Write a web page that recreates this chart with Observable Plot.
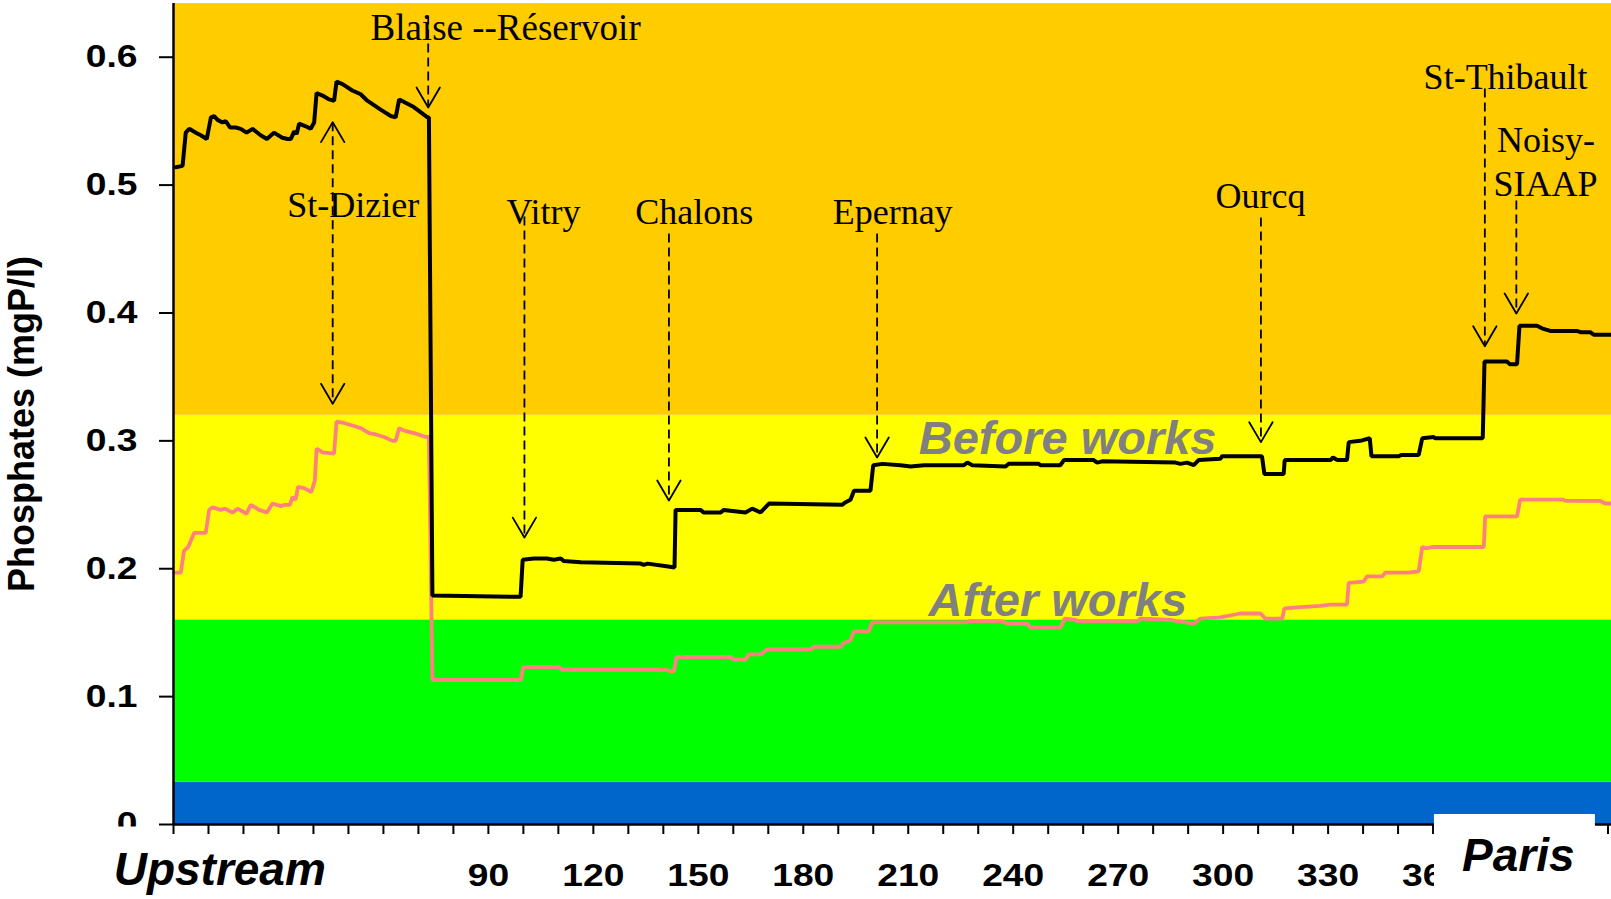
<!DOCTYPE html>
<html><head><meta charset="utf-8">
<script src="https://cdn.jsdelivr.net/npm/d3@7"></script>
<script src="https://cdn.jsdelivr.net/npm/@observablehq/plot@0.6"></script>
<style>html,body{margin:0;padding:0;background:#fff;overflow:hidden}</style>
</head><body><div id="chart"></div>
<script>
// ---- Data (km along the river, phosphates mgP/l) ----
const beforeWorks = [[0.7,0.514],[2.6,0.515],[3.5,0.541],[4.5,0.544],[6.4,0.541],[7.8,0.539],[9.5,0.536],[10.7,0.553],[11.6,0.554],[12.6,0.551],[14.0,0.549],[14.9,0.550],[16.2,0.545],[17.8,0.545],[19.2,0.544],[20.9,0.541],[22.6,0.544],[24.9,0.539],[26.7,0.536],[28.7,0.541],[31.1,0.537],[32.6,0.536],[33.5,0.536],[34.5,0.542],[35.2,0.540],[35.9,0.548],[37.8,0.546],[39.2,0.544],[40.2,0.549],[40.9,0.572],[42.6,0.570],[44.5,0.567],[45.9,0.566],[46.6,0.581],[48.3,0.579],[51.1,0.574],[53.5,0.571],[55.4,0.566],[59.2,0.559],[62.1,0.554],[63.5,0.553],[64.5,0.567],[65.9,0.565],[68.7,0.561],[72.6,0.553],[73.0,0.553],[74.0,0.179],[99.2,0.178],[99.8,0.207],[103.0,0.208],[106.7,0.208],[108.7,0.207],[110.7,0.208],[111.5,0.206],[116.4,0.205],[133.5,0.204],[134.4,0.203],[135.5,0.204],[140.9,0.202],[143.2,0.201],[143.5,0.246],[150.7,0.246],[151.5,0.244],[156.4,0.244],[157.2,0.246],[163.5,0.244],[165.4,0.247],[167.8,0.244],[170.2,0.251],[191.1,0.250],[192.1,0.252],[193.5,0.254],[194.5,0.261],[199.2,0.261],[200.0,0.281],[202.6,0.282],[207.8,0.281],[210.7,0.280],[214.5,0.281],[225.9,0.281],[226.9,0.283],[228.3,0.281],[237.8,0.280],[238.7,0.282],[247.3,0.282],[247.8,0.281],[253.5,0.281],[254.5,0.285],[263.0,0.285],[264.0,0.283],[265.4,0.284],[286.4,0.283],[287.8,0.282],[289.7,0.283],[291.6,0.281],[293.0,0.285],[299.2,0.286],[299.7,0.288],[311.1,0.288],[311.8,0.274],[317.3,0.274],[317.6,0.285],[330.7,0.285],[331.4,0.287],[332.6,0.285],[335.4,0.285],[335.9,0.299],[339.2,0.300],[341.9,0.302],[342.4,0.288],[350.2,0.288],[350.9,0.289],[355.9,0.289],[356.9,0.302],[360.2,0.303],[360.7,0.302],[374.2,0.302],[374.7,0.362],[381.1,0.362],[381.9,0.360],[384.0,0.360],[384.7,0.390],[389.7,0.390],[391.1,0.388],[393.5,0.386],[401.1,0.386],[402.1,0.385],[404.9,0.385],[405.9,0.383],[411.0,0.383]];

const afterWorks = [[0.7,0.197],[2.1,0.197],[3.0,0.214],[4.2,0.217],[5.9,0.228],[9.2,0.228],[10.2,0.246],[11.1,0.248],[13.5,0.246],[14.7,0.247],[16.9,0.244],[18.3,0.247],[20.9,0.243],[22.1,0.250],[24.5,0.246],[26.7,0.244],[28.3,0.251],[30.7,0.249],[31.8,0.250],[33.3,0.250],[34.0,0.256],[34.9,0.254],[35.6,0.264],[37.3,0.263],[39.4,0.260],[40.4,0.269],[40.9,0.294],[42.6,0.291],[45.9,0.290],[46.6,0.315],[48.7,0.314],[51.1,0.312],[53.5,0.310],[55.9,0.306],[57.8,0.305],[60.2,0.303],[62.6,0.300],[63.5,0.300],[64.5,0.310],[65.9,0.308],[68.7,0.306],[72.1,0.303],[73.0,0.303],[74.0,0.113],[99.2,0.113],[100.0,0.123],[110.2,0.123],[111.1,0.121],[140.7,0.121],[142.1,0.120],[143.0,0.120],[143.8,0.131],[159.2,0.131],[160.2,0.129],[163.5,0.129],[164.5,0.133],[167.8,0.133],[169.7,0.137],[182.1,0.137],[183.0,0.139],[190.7,0.139],[191.6,0.142],[193.5,0.144],[194.5,0.151],[198.7,0.151],[199.7,0.158],[226.4,0.158],[227.3,0.159],[236.4,0.159],[238.7,0.157],[244.0,0.157],[244.9,0.154],[253.5,0.154],[254.7,0.161],[257.8,0.160],[258.3,0.159],[275.4,0.159],[276.4,0.161],[284.9,0.160],[286.9,0.159],[291.6,0.157],[293.5,0.161],[299.2,0.162],[304.9,0.165],[310.7,0.165],[312.1,0.161],[316.9,0.161],[317.5,0.169],[322.1,0.170],[327.8,0.171],[330.7,0.172],[335.4,0.172],[335.9,0.189],[340.2,0.190],[341.1,0.194],[345.4,0.194],[346.4,0.197],[353.0,0.197],[355.9,0.198],[356.9,0.217],[358.3,0.216],[359.7,0.217],[374.5,0.217],[374.9,0.241],[384.0,0.241],[384.9,0.254],[397.3,0.254],[397.8,0.253],[407.8,0.253],[409.2,0.251],[411.0,0.251]];

// quality classes (background bands)
const bandLow   = [0, 0.033, 0.16, 0.32];
const bandHigh  = [0.033, 0.16, 0.32, 0.642];
const bandColor = ["#0066cc", "#00ff00", "#ffff00", "#ffcc00"];

// axes
const yTicks = [0, 0.1, 0.2, 0.3, 0.4, 0.5, 0.6];
const xMinorTicks = d3.range(0, 411, 10);
const xTickLabels = [90, 120, 150, 180, 210, 240, 270, 300, 330, 360, 390];
const yTitle = "Phosphates (mgP/l)";
const endNames = ["Upstream", "Paris"];
const endKm = [-17.1, 368.3];
const endVal = [-0.0477, -0.0365];

// site annotations
const siteNames = ["Blaise --Réservoir", "St-Dizier", "Vitry", "Chalons", "Epernay", "Ourcq", "St-Thibault", "Noisy-", "SIAAP"];
const siteKm  = [56.3, 32.5, 95.2, 132.0, 188.4, 297.8, 357.3, 378.3, 377.3];
const siteVal = [0.6132, 0.4749, 0.4692, 0.4692, 0.4692, 0.4817, 0.5755, 0.5255, 0.4911];
const siteSize = [37, 36, 36, 36, 36, 36, 36, 36, 36];

// arrows (km, start value, tip value, double-headed?)
const arrowKm    = [72.8, 45.5, 100.3, 141.6, 201.1, 310.8, 374.8, 383.8];
const arrowStart = [0.6326, 0.5492, 0.4754, 0.4622, 0.4622, 0.4747, 0.5755, 0.4880];
const arrowTip   = [0.5607, 0.3290, 0.2244, 0.2534, 0.2870, 0.2990, 0.3740, 0.3996];
const arrowBoth  = [false, true, false, false, false, false, false, false];

// series labels
const seriesNames = ["Before works", "After works"];
const seriesKm = [213.0, 215.8];
const seriesVal = [0.2899, 0.1634];

// ---- Build tables ----
const before = beforeWorks.map(([km, v]) => ({km, v}));
const after = afterWorks.map(([km, v]) => ({km, v}));
const bands = bandLow.map((lo, i) => ({lo, hi: bandHigh[i], color: bandColor[i]}));
const sites = siteNames.map((name, i) => ({name, km: siteKm[i], v: siteVal[i], size: siteSize[i]}));
const arrows = arrowKm.map((km, i) => ({km, start: arrowStart[i], tip: arrowTip[i], both: arrowBoth[i]}));
const HW = 3.34, HH = 0.0156; // arrowhead half-width (km) and height (mgP/l)
const heads = [];
arrows.forEach((a, i) => {
  const dir = a.tip < a.start ? 1 : -1;
  heads.push({id: i + "t", x: a.km - HW, y: a.tip + dir * HH}, {id: i + "t", x: a.km, y: a.tip}, {id: i + "t", x: a.km + HW, y: a.tip + dir * HH});
  if (a.both) {
    heads.push({id: i + "s", x: a.km - HW, y: a.start - dir * HH}, {id: i + "s", x: a.km, y: a.start}, {id: i + "s", x: a.km + HW, y: a.start - dir * HH});
  }
});
const seriesLabels = seriesNames.map((t, i) => ({t, km: seriesKm[i], v: seriesVal[i]}));
const ends = endNames.map((t, i) => ({t, km: endKm[i], v: endVal[i]}));
const parisBox = [{x1: 360.4, x2: 406.4, y1: 0.0078, y2: -0.0587}];

const serif = "'Liberation Serif', 'Times New Roman', serif";

const svg = Plot.plot({
  width: 1611, height: 899,
  marginLeft: 173, marginRight: 0, marginTop: 3, marginBottom: 75,
  x: {domain: [0, 411]},
  y: {domain: [0, 0.642]},
  color: {type: "identity"},
  style: {fontFamily: "'Liberation Sans', Arial, sans-serif", fontSize: "31px", fontWeight: "bold", color: "#000", background: "#fff", overflow: "visible"},
  marks: [
    Plot.rect(bands, {x1: () => 0, x2: () => 411, y1: "lo", y2: "hi", fill: "color"}),
    Plot.ruleY([0.642], {stroke: "#c8c8c8", strokeWidth: 1}),
    Plot.link(arrows, {x1: "km", x2: "km", y1: "start", y2: "tip", stroke: "#000", strokeWidth: 1.8, strokeDasharray: "9,5"}),
    Plot.line(heads, {x: "x", y: "y", z: "id", stroke: "#000", strokeWidth: 1.8}),
    Plot.line(after, {x: "km", y: "v", stroke: "#ff8080", strokeWidth: 3.8, strokeLinejoin: "miter"}),
    Plot.line(before, {x: "km", y: "v", stroke: "#000", strokeWidth: 4, strokeLinejoin: "miter"}),
    Plot.text(sites, {x: "km", y: "v", text: "name", textAnchor: "start", lineAnchor: "bottom", fontFamily: serif, fontSize: "size", fontWeight: "normal", fill: "#000"}),
    Plot.text(seriesLabels, {x: "km", y: "v", text: "t", textAnchor: "start", lineAnchor: "bottom", fontSize: 47, fontStyle: "italic", fontWeight: "bold", fill: "#808080"}),
    Plot.ruleX([0], {stroke: "#000", strokeWidth: 2.5}),
    Plot.ruleY([0], {stroke: "#000", strokeWidth: 2.5}),
    Plot.axisY({ticks: yTicks, tickSize: 14, tickPadding: 22, strokeWidth: 2, tickFormat: d => String(d), label: null}),
    Plot.axisX({ticks: xMinorTicks, tickSize: 10, strokeWidth: 2, tickFormat: () => "", label: null}),
    Plot.axisX({ticks: xTickLabels, tickSize: 0, tickPadding: 39, tickFormat: d => String(d), label: null}),
    Plot.text([yTitle], {frameAnchor: "left", dx: -140, dy: 10, rotate: -90, textAnchor: "middle", lineAnchor: "bottom", fontSize: 36, fontWeight: "bold", fill: "#000"}),
    Plot.rect(parisBox, {x1: "x1", x2: "x2", y1: "y1", y2: "y2", fill: "#fff"}),
    Plot.text(ends, {x: "km", y: "v", text: "t", textAnchor: "start", lineAnchor: "bottom", fontSize: 46, fontStyle: "italic", fontWeight: "bold", fill: "#000"})
  ]
});

// widen tick labels like the original (horizontally stretched glyphs)
d3.select(svg).selectAll('g[aria-label="y-axis tick label"] text, g[aria-label="x-axis tick label"] text').each(function() {
  const t = this.getAttribute("transform");
  if (t) this.setAttribute("transform", t + " scale(1.2,1)");
});
// the "0" tick label is cut at the axis line in the original
d3.select(svg).append("rect").attr("x", 0).attr("y", 826.5).attr("width", 158).attr("height", 22).attr("fill", "#fff");

document.getElementById("chart").appendChild(svg);
</script>
</body></html>
